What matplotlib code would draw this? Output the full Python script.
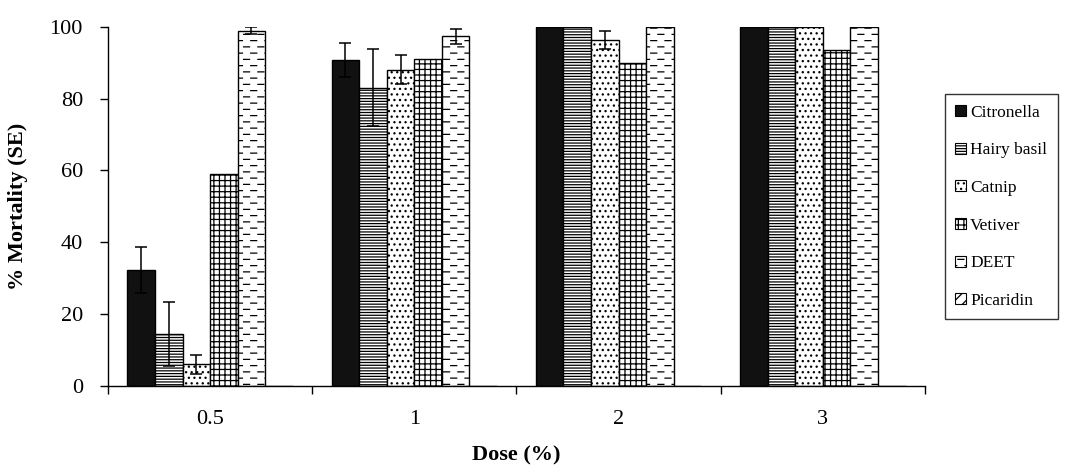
import warnings
import numpy as np
import matplotlib
matplotlib.use("Agg")
import matplotlib.pyplot as plt
import matplotlib.hatch as mhatch
from matplotlib.path import Path
from matplotlib.patches import Patch

warnings.filterwarnings("ignore")

doses = ["0.5", "1", "2", "3"]
series = ["Citronella", "Hairy basil", "Catnip", "Vetiver", "DEET", "Picaridin"]

citronella = [32.2, 90.7, 100, 100]
hairy_basil = [14.5, 83.0, 100, 100]
catnip = [6.0, 88.0, 96.3, 100]
vetiver = [59.0, 91.1, 90.0, 93.6]
deet = [98.9, 97.3, 100, 100]
picaridin = [0, 0, 0, 0]

citronella_se = [6.4, 4.7, 0, 0]
hairy_basil_se = [8.8, 10.7, 0, 0]
catnip_se = [2.6, 4.0, 2.5, 0]
vetiver_se = [0, 0, 0, 0]
deet_se = [0.9, 2.1, 0, 0]
picaridin_se = [0, 0, 0, 0]


class DashHatch(mhatch.HatchPatternBase):
    # short staggered horizontal dashes (Excel "dashed horizontal")
    def __init__(self, hatch, density):
        n = hatch.count('d')
        self.rows = 8 * n
        self.cols = 7 if n else 0
        self.num_lines = self.rows * self.cols
        self.num_vertices = self.num_lines * 2

    def set_vertices_and_codes(self, vertices, codes):
        k = 0
        for i in range(self.rows):
            y = (i + 0.5) / self.rows
            off = 0.5 * (i % 2)
            for j in range(self.cols):
                x0 = (j + off + 0.05) / self.cols
                vertices[k] = (x0, y)
                vertices[k + 1] = (x0 + 0.42 / self.cols, y)
                codes[k] = Path.MOVETO
                codes[k + 1] = Path.LINETO
                k += 2


mhatch._hatch_types.append(DashHatch)

plt.rcParams['font.family'] = ['Liberation Serif', 'DejaVu Serif']
plt.rcParams['hatch.linewidth'] = 0.9

values = [citronella, hairy_basil, catnip, vetiver, deet, picaridin]
errors = [citronella_se, hairy_basil_se, catnip_se, vetiver_se, deet_se, picaridin_se]
faces = ['#111111', 'white', 'white', 'white', 'white', 'white']
hatches = [None, '------', '...', '+++', 'dd', '///']

fig = plt.figure(figsize=(10.84, 4.66), dpi=100)
ax = fig.add_axes([0.0996, 0.1717, 0.7537, 0.771])

x = np.arange(len(doses)) + 0.5
w = 0.135
for i, (vals, errs) in enumerate(zip(values, errors)):
    pos = x + (i - 2.5) * w
    ax.bar(pos, vals, w, color=faces[i], edgecolor='black', linewidth=1.0,
           hatch=hatches[i], label=series[i])
    e = np.array(errs, dtype=float)
    mask = e > 0
    if mask.any():
        ax.errorbar(pos[mask], np.array(vals)[mask], yerr=e[mask], fmt='none',
                    ecolor='black', elinewidth=1.1, capsize=4.5, capthick=1.1)

ax.set_xlim(0, 4)
ax.set_ylim(0, 100)
ax.set_yticks([0, 20, 40, 60, 80, 100])
ax.set_xticks([0, 1, 2, 3, 4])
ax.set_xticklabels([])
ax.set_xticks(x, minor=True)
ax.set_xticklabels(doses, minor=True)
ax.tick_params(axis='x', which='major', direction='out', length=6, width=1)
ax.tick_params(axis='x', which='minor', length=0, pad=17, labelsize=16)
ax.tick_params(axis='y', direction='out', length=6, width=1, labelsize=16, pad=12)
for s in ['top', 'right']:
    ax.spines[s].set_visible(False)
for s in ['left', 'bottom']:
    ax.spines[s].set_linewidth(1.0)

ax.set_xlabel("Dose (%)", fontsize=16, fontweight='bold')
ax.set_ylabel("% Mortality (SE)", fontsize=16, fontweight='bold')
ax.xaxis.set_label_coords(0.5, -0.165)
ax.yaxis.set_label_coords(-0.098, 0.5)

handles = [Patch(facecolor=faces[i], edgecolor='black', hatch=hatches[i], linewidth=0.8)
           for i in range(len(series))]
leg = fig.legend(handles, series, loc='upper left', bbox_to_anchor=(0.8718, 0.798),
                 borderaxespad=0, frameon=True, fancybox=False, edgecolor='black',
                 fontsize=12.5, handlelength=0.6, handleheight=0.6, handletextpad=0.25,
                 labelspacing=1.25, borderpad=0.6)
leg.get_frame().set_linewidth(1.0)

fig.savefig("out.png", dpi=100)
